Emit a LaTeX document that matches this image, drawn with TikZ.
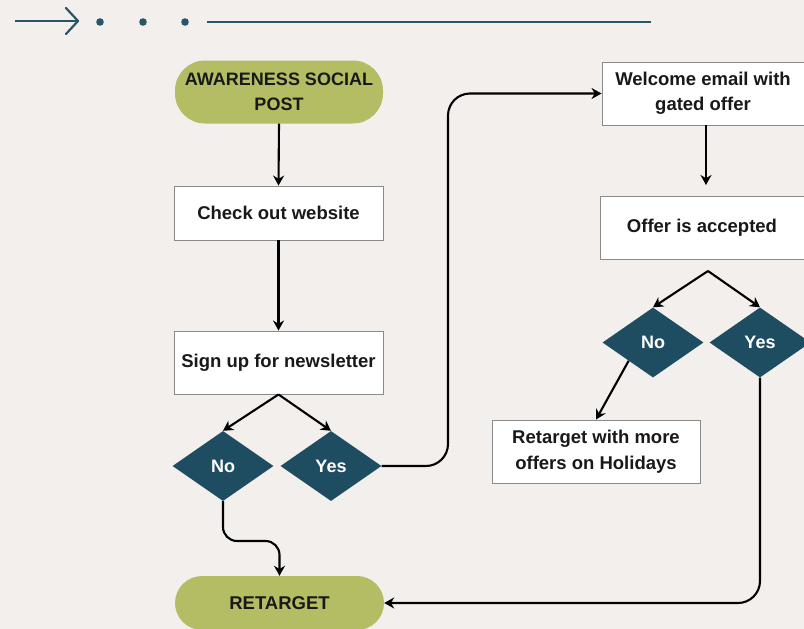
\documentclass[tikz,border=0pt]{standalone}
\usepackage{fontspec}
\setmainfont{Liberation Sans}
\usetikzlibrary{shapes.geometric,arrows.meta,calc}
\definecolor{bg}{HTML}{F3EFEC}
\definecolor{olive}{HTML}{B5BD64}
\definecolor{teal}{HTML}{1E4C60}
\definecolor{deco}{HTML}{2A5468}
\definecolor{border}{HTML}{8A8A8A}
\tikzset{
  txt/.style={font=\fontsize{18.5}{25.5}\selectfont\bfseries, align=center, text=black!90},
  pill/.style={txt, fill=olive, rounded corners=30pt, inner sep=0pt},
  whitebox/.style={txt, fill=white, draw=border, line width=0.9pt, inner sep=0pt},
  decision/.style={diamond, fill=teal, text=white, inner sep=0pt, aspect=1.43,
    font=\fontsize{18}{21}\selectfont\bfseries, minimum width=101pt, minimum height=70pt},
  conn/.style={draw=black, line width=2.1pt, -{Stealth[length=10pt,width=11pt]}},
}
\begin{document}
\begin{tikzpicture}[x=1pt,y=-1pt]
\fill[bg] (0,0) rectangle (804,629);
\useasboundingbox (0,0) rectangle (804,629);
% top decoration
\draw[deco, line width=2.2pt] (15,21) -- (78,21);
\draw[deco, line width=2.2pt, line cap=round, line join=round] (66,8) -- (78,21) -- (66,34);
\foreach \x in {100,143,185} \fill[deco] (\x,22) circle (3.8);
\draw[deco, line width=2.2pt] (207,22) -- (651,22);
% nodes
\node[pill, font=\fontsize{18}{25.5}\selectfont\bfseries, minimum width=208pt, minimum height=63pt] (aw) at (279,92) {AWARENESS SOCIAL\\POST};
\node[whitebox, minimum width=209pt, minimum height=54pt] (cw) at (278.5,213) {Check out website};
\node[whitebox, minimum width=209pt, minimum height=63pt] (su) at (278.5,362.5) {Sign up for newsletter};
\node[decision] (no1) at (223,466) {No};
\node[decision] (yes1) at (331,466) {Yes};
\node[pill, minimum width=209pt, minimum height=54pt, rounded corners=27pt] (ret) at (279.5,603) {RETARGET};
\node[whitebox, minimum width=202pt, minimum height=63pt] (wel) at (703,93.5) {Welcome email with\\gated offer};
\node[whitebox, minimum width=204pt, minimum height=63pt] (off) at (702,227.5) {Offer is accepted};
\node[decision] (no2) at (653,342.5) {No};
\node[decision] (yes2) at (760,342.5) {Yes};
\node[whitebox, minimum width=208pt, minimum height=63pt] (rto) at (596,451.5) {Retarget with more\\offers on Holidays};
% connectors
\coordinate (welout) at (706,125);
\coordinate (offin) at (706,185);
\coordinate (bendA) at (223,541);
\coordinate (bendB) at (279.5,541);
\draw[conn] (aw.south) -- (cw.north);
\draw[conn] (cw.south) -- (su.north);
\draw[conn] (su.south) -- (no1.north);
\draw[conn] (su.south) -- (yes1.north);
\draw[conn, rounded corners=14pt] (no1.south) -- (bendA) -- (bendB) -- (ret.north);
\draw[conn, rounded corners=22pt] (yes1.east) -| (448,200) |- (wel.west);
\draw[conn] (welout) -- (offin);
\coordinate (split) at (708,271);
\draw[conn] (split) -- (no2.north);
\draw[conn] (split) -- (yes2.north);
\coordinate (n2out) at ($(no2.west)!0.52!(no2.south)$);
\draw[conn] (n2out) -- (rto.north);
\draw[conn, rounded corners=22pt] (yes2.south) |- (ret.east);
\end{tikzpicture}
\end{document}
